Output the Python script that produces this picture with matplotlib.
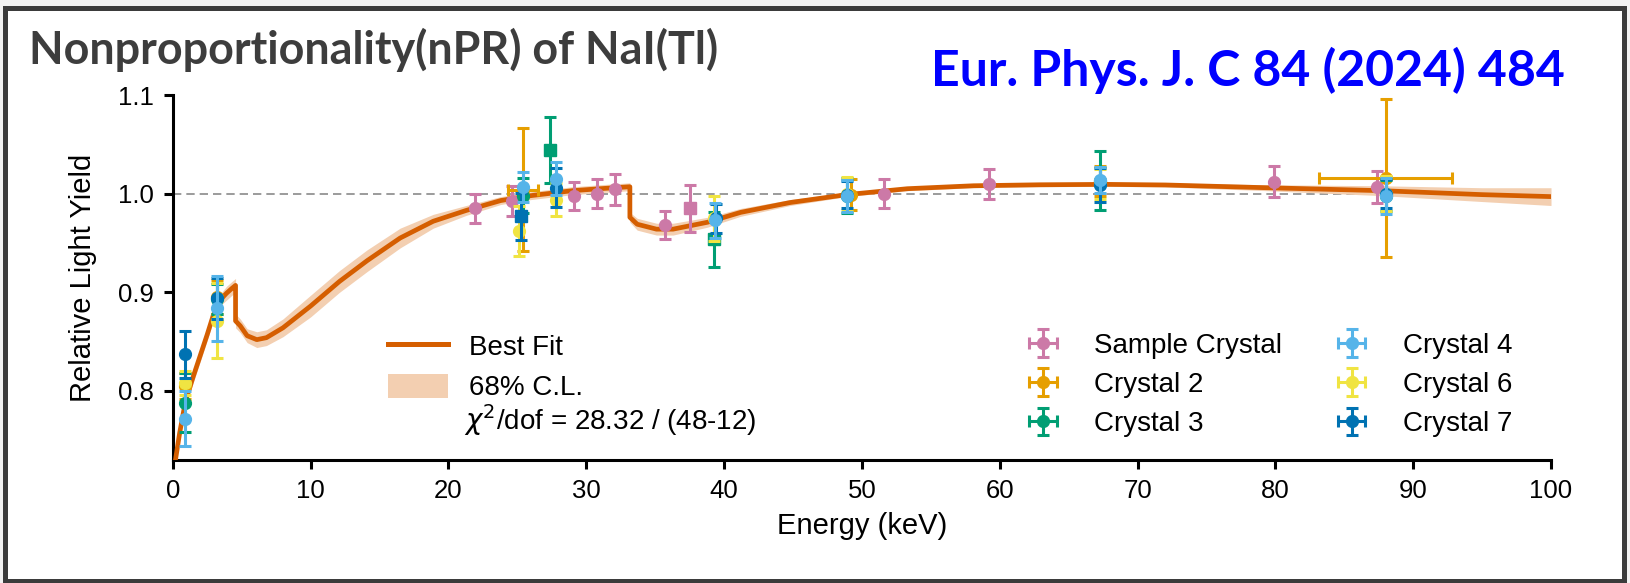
import numpy as np
import matplotlib
matplotlib.use("Agg")
import matplotlib.pyplot as plt
from matplotlib.patches import Rectangle, Patch
from matplotlib.lines import Line2D

plt.rcParams["font.family"] = ["Liberation Sans", "DejaVu Sans"]

# ---- best-fit nPR curve and its 68% C.L. band ----
fit_e = [0.2, 0.5, 0.8, 1.0, 1.5, 2.0, 2.5, 2.95, 3.5, 3.9, 4.3, 4.56, 4.56, 4.9, 5.4,
         6.1, 6.8, 8.0, 10.0, 12.1, 14.1, 16.5, 18.9, 21.3, 23.8, 26.0, 29.0, 31.0,
         33.17, 33.17, 33.7, 35.1, 36.3, 38.8, 41.2, 44.8, 48.9, 53.3, 58.1, 62.9,
         67.8, 72.0, 79.4, 87.7, 95.0, 100.0]
fit_y = [0.730, 0.757, 0.780, 0.793, 0.815, 0.836, 0.857, 0.877, 0.893, 0.899, 0.904,
         0.907, 0.871, 0.866, 0.856, 0.852, 0.854, 0.864, 0.886, 0.911, 0.932, 0.955,
         0.972, 0.983, 0.993, 0.998, 1.003, 1.005, 1.007, 0.976, 0.969, 0.964, 0.964,
         0.971, 0.981, 0.991, 0.999, 1.005, 1.008, 1.009, 1.0094, 1.0088, 1.006, 1.003,
         0.999, 0.997]
band_half = [0.006, 0.006, 0.006, 0.006, 0.006, 0.006, 0.006, 0.006, 0.006, 0.007, 0.007,
             0.007, 0.007, 0.007, 0.007, 0.008, 0.008, 0.009, 0.011, 0.011, 0.011, 0.010,
             0.007, 0.005, 0.004, 0.004, 0.004, 0.004, 0.004, 0.005, 0.006, 0.006, 0.006,
             0.005, 0.004, 0.003, 0.002, 0.002, 0.002, 0.002, 0.002, 0.002, 0.003, 0.005,
             0.007, 0.009]

# ---- measured relative light yields ----
sample_e = [21.9, 24.6, 29.15, 30.8, 32.1, 35.7, 37.5, 51.6, 59.2, 79.9, 87.4]
sample_y = [0.985, 0.9925, 0.9976, 1.000, 1.0044, 0.968, 0.985, 1.000, 1.010, 1.012, 1.007]
sample_err = [0.0145, 0.015, 0.0145, 0.0145, 0.0155, 0.014, 0.024, 0.0147, 0.015, 0.0157, 0.016]
sample_mk = ["o", "o", "o", "o", "o", "o", "s", "o", "o", "o", "o"]

c2_e = [0.87, 3.2, 25.4, 49.2, 67.3, 88.0]
c2_y = [0.805, 0.895, 1.004, 0.999, 1.013, 1.0155]
c2_err = [0.013, 0.017, 0.0625, 0.016, 0.015, 0.080]
c2_xerr = [0.0, 0.0, 1.1, 0.0, 0.0, 4.8]
c2_mk = ["o", "o", "o", "o", "o", "o"]

c3_e = [0.87, 3.2, 25.4, 27.4, 39.3, 48.9, 67.3, 88.0]
c3_y = [0.788, 0.893, 0.998, 1.0443, 0.9536, 0.998, 1.013, 0.998]
c3_err = [0.030, 0.015, 0.018, 0.033, 0.028, 0.018, 0.030, 0.016]
c3_mk = ["o", "o", "o", "s", "s", "o", "o", "o"]

c4_e = [0.87, 3.2, 25.4, 27.8, 39.35, 48.9, 67.3, 88.0]
c4_y = [0.772, 0.884, 1.007, 1.0152, 0.9729, 0.9976, 1.0138, 0.9976]
c4_err = [0.028, 0.033, 0.015, 0.017, 0.018, 0.016, 0.013, 0.018]
c4_mk = ["o"] * 8

c6_e = [0.87, 3.2, 25.1, 27.8, 39.3, 48.9, 67.3, 88.0]
c6_y = [0.808, 0.871, 0.962, 0.994, 0.975, 1.000, 1.010, 1.000]
c6_err = [0.012, 0.038, 0.025, 0.017, 0.023, 0.017, 0.015, 0.018]
c6_mk = ["o"] * 8

c7_e = [0.87, 3.2, 25.3, 27.8, 39.4, 48.9, 67.3, 88.0]
c7_y = [0.837, 0.894, 0.977, 1.006, 0.975, 0.999, 1.009, 1.000]
c7_err = [0.024, 0.021, 0.024, 0.020, 0.015, 0.014, 0.017, 0.015]
c7_mk = ["o", "o", "s", "o", "o", "o", "o", "o"]

x_ticks = [0, 10, 20, 30, 40, 50, 60, 70, 80, 90, 100]
y_ticks = [0.8, 0.9, 1.0, 1.1]

PINK, ORANGE, GREEN = "#CC79A7", "#E69F00", "#009E73"
SKY, YELLOW, BLUE = "#56B4E9", "#F0E442", "#0072B2"
FIT, BAND = "#D55E00", "#F3CFB1"

W, H = 1630, 583
fig = plt.figure(figsize=(W / 100, H / 100), dpi=100)
fig.patch.set_facecolor("#f2f2f2")
fig.patches.append(Rectangle((5 / W, 2.5 / H), 1619 / W, 573 / H, transform=fig.transFigure,
                             facecolor="white", edgecolor="#3b3b3b", linewidth=3.6,
                             zorder=-5))

ax = fig.add_axes([172.7 / W, 123 / H, (1551 - 172.7) / W, (460 - 95) / H])
ax.set_facecolor("none")
ax.set_xlim(0, 100)
ax.set_ylim(0.73, 1.1)

ax.axhline(1.0, color="#8a8a8a", lw=1.2, ls=(0, (5, 3)), zorder=1)

fe = np.array(fit_e)
fy = np.array(fit_y)
fh = np.array(band_half)
ax.fill_between(fe, fy - fh, fy + fh, color=BAND, lw=0, zorder=2)
ax.plot(fe, fy, color=FIT, lw=3.4, zorder=3, solid_joinstyle="round")

eb_kw = dict(elinewidth=2.2, capsize=4.6, capthick=2.2, markersize=8.5, ls="none")


def draw_series(e, y, err, mk, color, xerr=None, z=4):
    for i in range(len(e)):
        xe = None if xerr is None or xerr[i] == 0 else xerr[i]
        ax.errorbar(e[i], y[i], yerr=err[i], xerr=xe, marker=mk[i], color=color,
                    zorder=z, **eb_kw)


draw_series(sample_e, sample_y, sample_err, sample_mk, PINK, z=4)
draw_series(c2_e, c2_y, c2_err, c2_mk, ORANGE, xerr=c2_xerr, z=4.1)
draw_series(c3_e, c3_y, c3_err, c3_mk, GREEN, z=4.2)
draw_series(c6_e, c6_y, c6_err, c6_mk, YELLOW, z=4.3)
draw_series(c7_e, c7_y, c7_err, c7_mk, BLUE, z=4.4)
draw_series(c4_e, c4_y, c4_err, c4_mk, SKY, z=4.5)

# legend keys for the crystals (cross-shaped error bar symbols)
series_names = ["Sample Crystal", "Crystal 2", "Crystal 3", "Crystal 4", "Crystal 6", "Crystal 7"]
series_cols = [PINK, ORANGE, GREEN, SKY, YELLOW, BLUE]
keys = [ax.errorbar([np.nan], [np.nan], xerr=[1], yerr=[1], marker="o", color=c, **eb_kw)
        for c in series_cols]

ax.set_xticks(x_ticks)
ax.set_yticks(y_ticks)
ax.set_yticklabels([f"{v:.1f}" for v in y_ticks])
for s in ["top", "right"]:
    ax.spines[s].set_visible(False)
for s in ["left", "bottom"]:
    ax.spines[s].set_linewidth(2.2)
ax.tick_params(direction="out", length=6.5, width=2.2, labelsize=18.5, pad=7)
ax.set_xlabel("Energy (keV)", fontsize=21, labelpad=7)
ax.set_ylabel("Relative Light Yield", fontsize=21, labelpad=15)

fit_handles = [Line2D([], [], color=FIT, lw=3.6),
               Patch(facecolor=BAND, edgecolor="none")]
fit_labels = ["Best Fit", "68% C.L."]
leg1 = ax.legend(fit_handles, fit_labels, loc="upper left", frameon=False, fontsize=20,
                 bbox_to_anchor=(388 / W, 1 - 333 / H), bbox_transform=fig.transFigure,
                 borderpad=0, borderaxespad=0, handlelength=2.15, handleheight=0.95,
                 handletextpad=0.75, labelspacing=0.47)
ax.add_artist(leg1)
ax.legend(keys, series_names, loc="upper left", frameon=False, fontsize=20, ncol=2,
          bbox_to_anchor=(1026 / W, 1 - 333 / H), bbox_transform=fig.transFigure,
          borderpad=0, borderaxespad=0, handlelength=1.2, handletextpad=1.25,
          labelspacing=0.47, columnspacing=1.9)

# goodness-of-fit note under the fit legend
fig.text(464 / W, 1 - 430 / H, r"$\chi^2$/dof = 28.32 / (48-12)", fontsize=20,
         ha="left", va="baseline")

fig.text(29 / W, 1 - 64 / H, "Nonproportionality(nPR) of NaI(Tl)", fontsize=32.3,
         fontweight="bold", family=["Lato", "DejaVu Sans"], color="#3d3d3d",
         ha="left", va="baseline")
fig.text(1565 / W, 1 - 86 / H, "Eur. Phys. J. C 84 (2024) 484", fontsize=36,
         fontweight="bold", family=["Lato", "DejaVu Sans"], color="#0000FF",
         ha="right", va="baseline")

fig.savefig("out.png", dpi=100, facecolor=fig.get_facecolor())
